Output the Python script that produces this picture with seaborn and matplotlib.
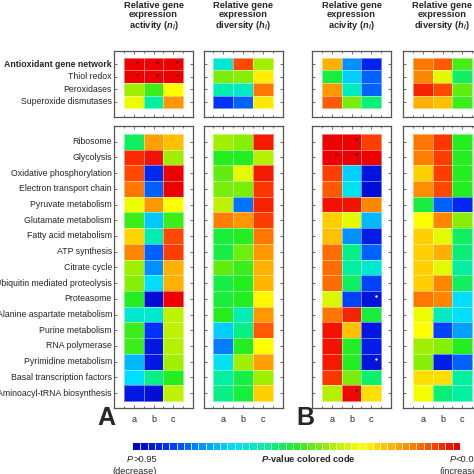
import numpy as np
import pandas as pd
import matplotlib
matplotlib.use('Agg')
import matplotlib.pyplot as plt
import seaborn as sns
from matplotlib.colors import LinearSegmentedColormap, BoundaryNorm
import matplotlib.colorbar as mcolorbar

top_rows = ['Antioxidant gene network', 'Thiol redox', 'Peroxidases', 'Superoxide dismutases']
bottom_rows = ['Ribosome', 'Glycolysis', 'Oxidative phosphorylation', 'Electron transport chain',
               'Pyruvate metabolism', 'Glutamate metabolism', 'Fatty acid metabolism', 'ATP synthesis',
               'Citrate cycle', 'Ubiquitin mediated proteolysis', 'Proteasome',
               'Alanine aspartate metabolism', 'Purine metabolism', 'RNA polymerase',
               'Pyrimidine metabolism', 'Basal transcription factors', 'Aminoacyl-tRNA biosynthesis']
cols = ['a', 'b', 'c']

# colour-coded p-values, 0 = decrease (P>0.95) ... 1 = increase (P<0.05)
a_n_top = [[1.00, 1.00, 1.00], [1.00, 1.00, 1.00], [0.60, 0.52, 0.70], [0.68, 0.40, 0.83]]
a_h_top = [[0.35, 0.92, 0.60], [0.57, 0.58, 0.72], [0.38, 0.36, 0.87], [0.10, 0.15, 0.73]]
b_n_top = [[0.80, 0.20, 0.07], [0.48, 0.28, 0.15], [0.83, 0.37, 0.15], [0.90, 0.57, 0.43]]
b_h_top = [[0.87, 0.90, 0.53], [0.85, 0.67, 0.45], [0.96, 0.92, 0.55], [0.80, 0.78, 0.52]]

a_n_bottom = [[0.45, 0.82, 0.78], [0.95, 0.98, 0.60], [0.92, 0.08, 1.00], [0.87, 0.15, 1.00],
              [0.68, 0.83, 0.70], [0.52, 0.27, 0.52], [0.75, 0.38, 0.92], [0.85, 0.15, 0.93],
              [0.60, 0.20, 0.80], [0.58, 0.30, 0.80], [0.50, 0.03, 1.00], [0.35, 0.35, 0.63],
              [0.52, 0.10, 0.63], [0.52, 0.05, 0.62], [0.25, 0.05, 0.60], [0.30, 0.42, 0.50],
              [0.05, 0.03, 0.63]]
a_h_bottom = [[0.60, 0.58, 0.97], [0.50, 0.50, 0.62], [0.55, 0.67, 0.97], [0.57, 0.57, 0.94],
              [0.63, 0.17, 0.96], [0.86, 0.83, 0.93], [0.48, 0.50, 0.87], [0.47, 0.56, 0.83],
              [0.55, 0.52, 0.80], [0.47, 0.50, 0.79], [0.48, 0.50, 0.71], [0.50, 0.38, 0.83],
              [0.28, 0.42, 0.90], [0.18, 0.50, 0.70], [0.32, 0.60, 0.82], [0.40, 0.47, 0.60],
              [0.42, 0.48, 0.76]]
b_n_bottom = [[1.00, 1.00, 0.93], [1.00, 1.00, 1.00], [0.93, 0.28, 0.04], [0.90, 0.32, 0.03],
              [0.98, 0.98, 0.85], [0.76, 0.67, 0.25], [0.78, 0.20, 0.06], [0.88, 0.42, 0.15],
              [0.88, 0.40, 0.35], [0.88, 0.45, 0.12], [0.66, 0.12, 0.04], [0.87, 0.96, 0.48],
              [0.98, 0.78, 0.05], [0.98, 0.50, 0.06], [0.97, 0.50, 0.04], [0.94, 0.57, 0.44],
              [0.62, 0.99, 0.74]]
b_h_bottom = [[0.87, 0.94, 0.50], [0.86, 0.93, 0.50], [0.76, 0.93, 0.50], [0.84, 0.92, 0.50],
              [0.48, 0.15, 0.08], [0.70, 0.85, 0.58], [0.76, 0.67, 0.45], [0.76, 0.80, 0.43],
              [0.76, 0.67, 0.40], [0.76, 0.85, 0.45], [0.87, 0.85, 0.30], [0.68, 0.37, 0.30],
              [0.70, 0.12, 0.22], [0.60, 0.58, 0.50], [0.58, 0.06, 0.15], [0.74, 0.74, 0.40],
              [0.69, 0.43, 0.40]]

# significance marks (row, column)
a_n_top_dark = [(0, 0), (0, 1), (0, 2), (1, 0), (1, 1), (1, 2)]
b_n_bottom_dark = [(0, 1), (1, 0), (1, 1), (16, 1)]
b_n_bottom_light = [(10, 2), (14, 2)]

sns.set_style('ticks')
plt.rcParams['font.family'] = ['Liberation Sans', 'DejaVu Sans']
plt.rcParams['mathtext.fontset'] = 'custom'
plt.rcParams['mathtext.it'] = 'Liberation Sans:bold:italic'
plt.rcParams['mathtext.rm'] = 'Liberation Sans:bold'

cmap = LinearSegmentedColormap.from_list('pcode', [
    (0.00, '#0000c8'), (0.10, '#0033ff'), (0.20, '#0090ff'), (0.30, '#00e0ff'),
    (0.40, '#00f0a0'), (0.50, '#20ee20'), (0.60, '#a0ee00'), (0.70, '#ffff00'),
    (0.78, '#ffc000'), (0.86, '#ff8000'), (0.93, '#ff4000'), (1.00, '#ee0000')])

fig = plt.figure(figsize=(4.74, 4.74), dpi=100)
W = 474.0

def px_axes(left, top, width, height):
    return fig.add_axes([left / W, 1 - (top + height) / W, width / W, height / W])

def panel(ax, values, rows, show_rows, show_cols, pad_top, pad_bot):
    df = pd.DataFrame(values, index=rows, columns=cols)
    sns.heatmap(df, ax=ax, cmap=cmap, vmin=0, vmax=1, cbar=False,
                linewidths=0.4, linecolor=(1, 1, 1, 0.45))
    for s in ax.spines.values():
        s.set_visible(True)
        s.set_color('#555555')
        s.set_linewidth(0.9)
    ax.set_xlim(-0.5, 3.5)
    ax.set_ylim(len(rows) + pad_bot, -pad_top)
    ax.set_xticks(np.arange(3) + 0.5)
    ax.set_xticks(np.arange(4), minor=True)
    ax.set_yticks(np.arange(len(rows)) + 0.5)
    ax.set_xticklabels(cols if show_cols else [], fontsize=6.5, rotation=0)
    ax.set_yticklabels(rows if show_rows else [], fontsize=6.3, rotation=0)
    ax.tick_params(axis='both', which='major', direction='in', top=True, right=True,
                   length=2.5, width=0.6, color='#555555', pad=1.5)
    ax.tick_params(axis='x', which='major', pad=5)
    ax.tick_params(axis='x', which='minor', direction='in', top=True, bottom=True,
                   length=1.5, width=0.6, color='#555555')
    ax.set_xlabel('')
    ax.set_ylabel('')

def marks(ax, cells, color, dx=0.72, dy=0.3):
    if cells:
        r = np.array([c[0] for c in cells])
        c = np.array([c[1] for c in cells])
        ax.scatter(c + dx, r + dy, s=3, color=color, zorder=5, linewidths=0)

lefts = [114, 203.5, 312, 403]
tops = [a_n_top, a_h_top, b_n_top, b_h_top]
bottoms = [a_n_bottom, a_h_bottom, b_n_bottom, b_h_bottom]
titles = ['Relative gene\nexpression\nactivity ($n_i$)',
          'Relative gene\nexpression\ndiversity ($h_i$)',
          'Relative gene\nexpression\nacivity ($n_i$)',
          'Relative gene\nexpression\ndiversity ($h_i$)']

for i in range(4):
    ax_t = px_axes(lefts[i], 51, 79, 66)
    panel(ax_t, tops[i], top_rows, i == 0, False, 0.55, 0.7)
    ax_b = px_axes(lefts[i], 126, 79, 282)
    panel(ax_b, bottoms[i], bottom_rows, i == 0, True, 0.5, 0.45)
    fig.text((lefts[i] + 39.5) / W, 1 - 0.5 / W, titles[i], ha='center', va='top',
             fontsize=6.7, fontweight='bold', linespacing=1.05)
    if i == 0:
        ax_t.get_yticklabels()[0].set_fontweight('bold')
        marks(ax_t, a_n_top_dark, '#5a0000', dx=0.68, dy=0.35)
    if i == 2:
        marks(ax_b, b_n_bottom_dark, '#5a0000')
        marks(ax_b, b_n_bottom_light, '#ffffff')

fig.text(106 / W, 1 - 418 / W, 'A', ha='center', va='center', fontsize=18, fontweight='bold')
fig.text(305 / W, 1 - 418 / W, 'B', ha='center', va='center', fontsize=18, fontweight='bold')

# segmented colour key
cax = px_axes(133, 443, 327, 7)
nseg = 45
cb = mcolorbar.ColorbarBase(cax, cmap=cmap.resampled(nseg),
                            norm=BoundaryNorm(np.linspace(0, 1, nseg + 1), nseg),
                            orientation='horizontal', drawedges=True)
cb.outline.set_visible(False)
cb.dividers.set_color('white')
cb.dividers.set_linewidth(0.6)
cax.minorticks_off()
cax.tick_params(which='both', length=0, labelbottom=False, labelleft=False)
cax.set_xticks([])
cax.set_yticks([])

fig.text(133 / W, 1 - 460 / W, 'P', ha='right', va='center', fontsize=6.7, style='italic')
fig.text(133 / W, 1 - 460 / W, '>0.95', ha='left', va='center', fontsize=6.7)
fig.text(135 / W, 1 - 471 / W, '(decrease)', ha='center', va='center', fontsize=6.7)
fig.text(308 / W, 1 - 459 / W, '$P$-value colored code', ha='center', va='center',
         fontsize=6.7, fontweight='bold')
fig.text(456 / W, 1 - 460 / W, 'P', ha='right', va='center', fontsize=6.7, style='italic')
fig.text(456 / W, 1 - 460 / W, '<0.05', ha='left', va='center', fontsize=6.7)
fig.text(460 / W, 1 - 471 / W, '(increase)', ha='center', va='center', fontsize=6.7)

fig.savefig('out.png', dpi=100)
